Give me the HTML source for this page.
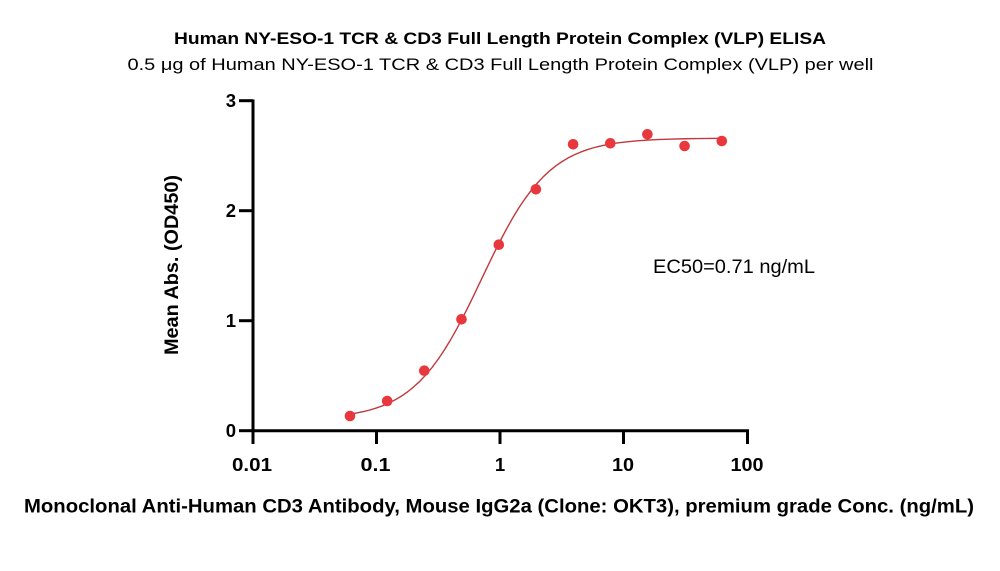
<!DOCTYPE html>
<html>
<head>
<meta charset="utf-8">
<style>
  html, body { margin: 0; padding: 0; background: #ffffff; }
  svg { display: block; }
  text { font-family: "Liberation Sans", "DejaVu Sans", sans-serif; fill: #000; }
</style>
</head>
<body>
<svg width="1000" height="571" viewBox="0 0 1000 571" xmlns="http://www.w3.org/2000/svg">
  <rect x="0" y="0" width="1000" height="571" fill="#ffffff"/>

  <!-- Titles -->
  <text x="174" y="44" font-size="16.5" font-weight="bold" textLength="652" lengthAdjust="spacingAndGlyphs">Human NY-ESO-1 TCR &amp; CD3 Full Length Protein Complex (VLP) ELISA</text>
  <text x="127.5" y="70" font-size="17" textLength="746" lengthAdjust="spacingAndGlyphs">0.5 μg of Human NY-ESO-1 TCR &amp; CD3 Full Length Protein Complex (VLP) per well</text>

  <!-- Axes -->
  <g stroke="#000" stroke-width="3" fill="none" stroke-linecap="butt">
    <line x1="253" y1="99.5" x2="253" y2="432"/>
    <line x1="251.5" y1="430.7" x2="749" y2="430.7"/>
    <!-- y ticks -->
    <line x1="239" y1="100.7" x2="253" y2="100.7"/>
    <line x1="239" y1="210.7" x2="253" y2="210.7"/>
    <line x1="239" y1="320.7" x2="253" y2="320.7"/>
    <line x1="239" y1="430.7" x2="253" y2="430.7"/>
    <!-- x ticks -->
    <line x1="253" y1="430" x2="253" y2="444"/>
    <line x1="376.5" y1="430" x2="376.5" y2="444"/>
    <line x1="500" y1="430" x2="500" y2="444"/>
    <line x1="623.5" y1="430" x2="623.5" y2="444"/>
    <line x1="747.5" y1="430" x2="747.5" y2="444"/>
  </g>

  <!-- Y tick labels -->
  <g font-size="18.5" font-weight="bold" text-anchor="end">
    <text x="236" y="107.2">3</text>
    <text x="236" y="217.2">2</text>
    <text x="236" y="327.2">1</text>
    <text x="236" y="437.2">0</text>
  </g>

  <!-- X tick labels -->
  <g font-size="18.5" font-weight="bold" text-anchor="middle">
    <text x="252" y="471" textLength="40" lengthAdjust="spacingAndGlyphs">0.01</text>
    <text x="375.5" y="471" textLength="30" lengthAdjust="spacingAndGlyphs">0.1</text>
    <text x="500" y="471">1</text>
    <text x="623" y="471" textLength="22" lengthAdjust="spacingAndGlyphs">10</text>
    <text x="747" y="471" textLength="33" lengthAdjust="spacingAndGlyphs">100</text>
  </g>

  <!-- Axis labels -->
  <text x="24" y="512.5" font-size="19.5" font-weight="bold" textLength="950" lengthAdjust="spacingAndGlyphs">Monoclonal Anti-Human CD3 Antibody, Mouse IgG2a (Clone: OKT3), premium grade Conc. (ng/mL)</text>
  <text transform="translate(178,355) rotate(-90)" x="0" y="0" font-size="19" font-weight="bold" textLength="180" lengthAdjust="spacingAndGlyphs">Mean Abs. (OD450)</text>

  <!-- EC50 annotation -->
  <text x="653" y="273" font-size="19.5" textLength="162" lengthAdjust="spacingAndGlyphs">EC50=0.71 ng/mL</text>

  <!-- Fitted curve -->
  <polyline fill="none" stroke="#c0393d" stroke-width="1.4" stroke-linejoin="round" stroke-linecap="round"
    points="349.98,414.26 364.15,411.48 370.33,409.88 376.5,407.97 382.68,405.73 388.85,403.06 395.03,399.93 401.2,396.27 407.38,392.0 413.55,387.03 419.73,381.34 425.9,374.8 432.08,367.4 438.25,359.12 444.43,349.9 450.6,339.79 456.78,328.84 462.95,317.18 469.13,304.89 475.3,292.2 481.48,279.23 487.65,266.28 493.83,253.56 500,241.25 506.18,229.57 512.35,218.55 518.53,208.39 524.7,199.15 530.88,190.79 537.05,183.35 543.23,176.82 549.4,171.05 555.58,166.06 561.75,161.75 567.93,158.04 574.1,154.9 580.28,152.21 586.45,149.92 592.63,148.01 598.8,146.39 604.98,145.03 611.15,143.9 617.33,142.94 623.5,142.14 635.85,140.9 648.2,140.05 660.55,139.45 672.9,139.04 685.25,138.75 697.6,138.55 709.95,138.4 721.8,138.3"/>

  <!-- Data points -->
  <g fill="#e8383d">
    <circle cx="350" cy="416" r="5.3"/>
    <circle cx="387.2" cy="401" r="5.3"/>
    <circle cx="424.3" cy="370.7" r="5.3"/>
    <circle cx="461.5" cy="319.3" r="5.3"/>
    <circle cx="498.8" cy="244.7" r="5.3"/>
    <circle cx="535.9" cy="189.3" r="5.3"/>
    <circle cx="573.1" cy="144.3" r="5.3"/>
    <circle cx="610.3" cy="143.3" r="5.3"/>
    <circle cx="647.4" cy="134.3" r="5.3"/>
    <circle cx="684.6" cy="146" r="5.3"/>
    <circle cx="721.8" cy="141" r="5.3"/>
  </g>
</svg>
</body>
</html>
